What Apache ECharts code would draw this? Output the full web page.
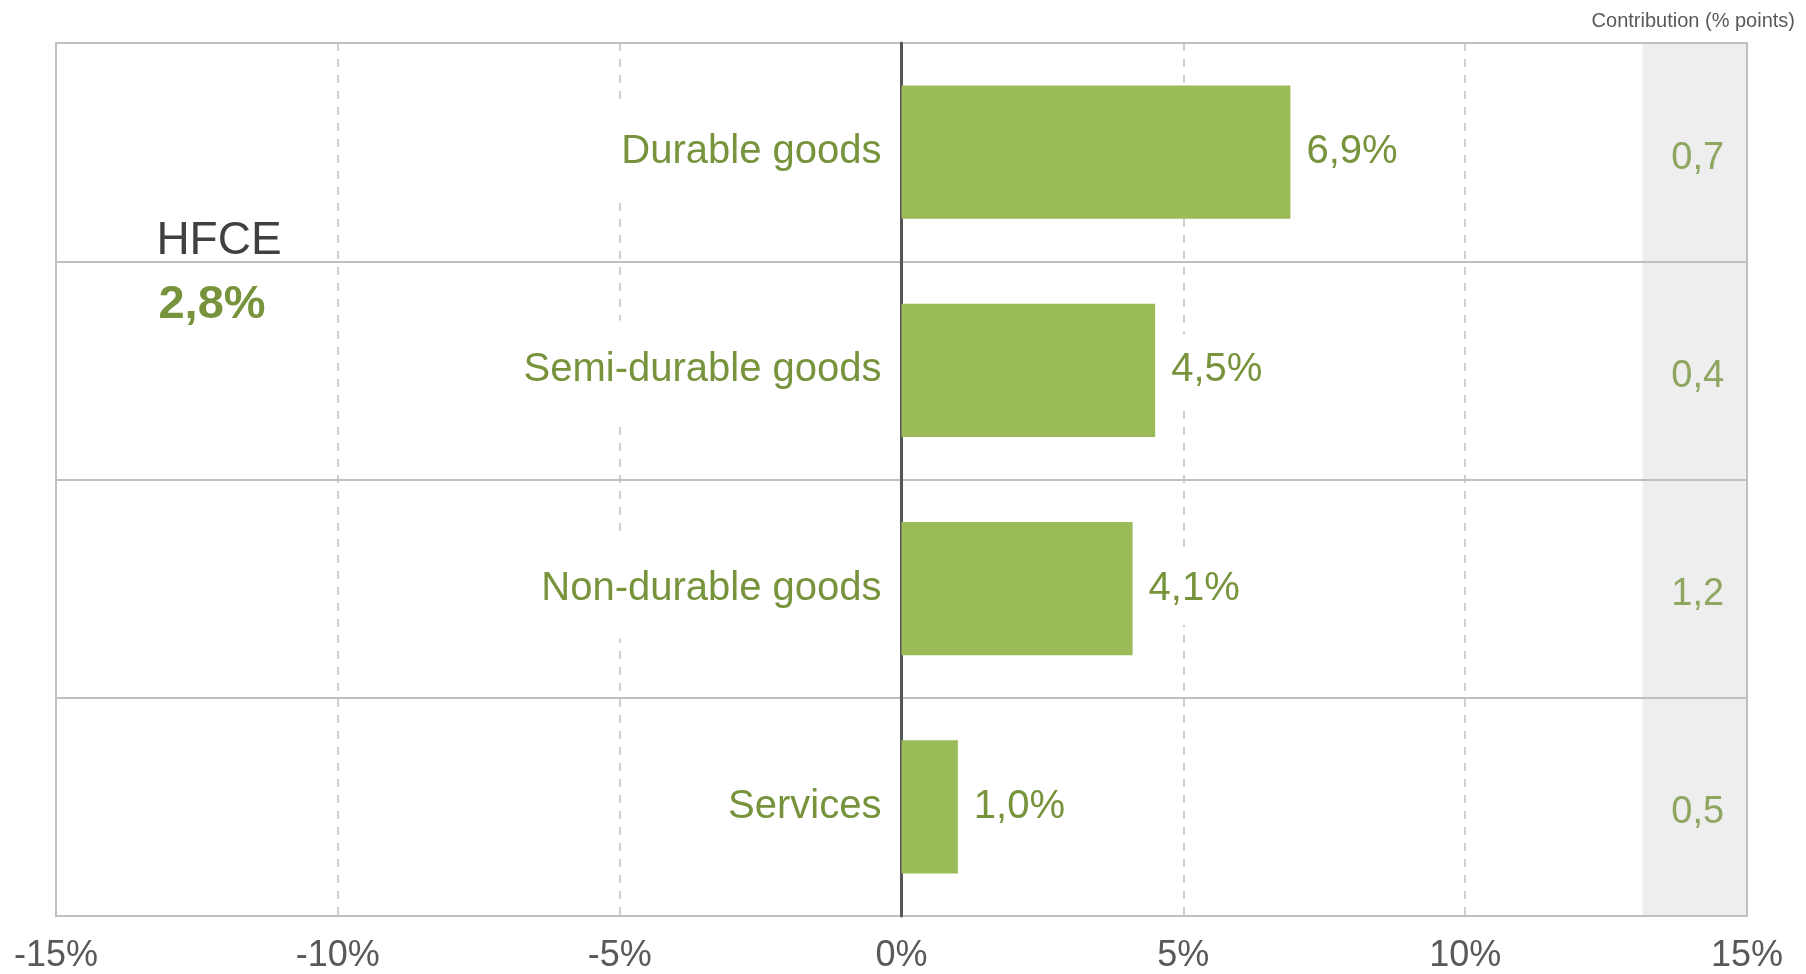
<!DOCTYPE html>
<html>
<head>
<meta charset="utf-8">
<script src="https://cdn.jsdelivr.net/npm/echarts@6/dist/echarts.min.js"></script>
<style>
html,body{margin:0;padding:0;background:#fff;}
#chart{width:1806px;height:974px;}
</style>
</head>
<body>
<div id="chart"></div>
<script>
const categories = ['Durable goods', 'Semi-durable goods', 'Non-durable goods', 'Services'];
const growth = [6.9, 4.5, 4.1, 1.0];
const contribution = [0.7, 0.4, 1.2, 0.5];
const hfceLabel = 'HFCE';
const hfceTotal = 2.8;
const contributionTitle = 'Contribution (% points)';
const xMin = -15, xMax = 15, xStep = 5;
const contribBand = [13.15, 15];

const FONT = '"Liberation Sans", Arial, sans-serif';
const GREEN = '#77933C';
const comma = v => v.toFixed(1).replace('.', ',');
const bandCenter = (contribBand[0] + contribBand[1]) / 2 + 0.05;

const W = 1806;
const gridLeft = 56, gridRight = 59;
const zeroOffset = (0 - xMin) / (xMax - xMin) * (W - gridLeft - gridRight);

const chart = echarts.init(document.getElementById('chart'), null, {renderer: 'canvas'});
chart.setOption({
  animation: false,
  backgroundColor: '#ffffff',
  textStyle: {fontFamily: FONT},
  title: {
    text: contributionTitle,
    right: 6, top: 6,
    textStyle: {fontSize: 20, fontWeight: 'normal', color: '#595959', fontFamily: FONT}
  },
  grid: {
    left: gridLeft, right: gridRight, top: 43, bottom: 58,
    containLabel: false, outerBoundsMode: 'none',
    show: true, borderColor: '#c0c0c0', borderWidth: 2, backgroundColor: 'transparent'
  },
  xAxis: {
    type: 'value', min: xMin, max: xMax, interval: xStep,
    axisLine: {show: false},
    axisTick: {show: false},
    axisLabel: {
      formatter: v => v + '%', fontSize: 36, color: '#595959', margin: 22, fontFamily: FONT
    },
    splitLine: {
      show: true, showMinLine: false, showMaxLine: false,
      lineStyle: {color: '#c0c0c0', width: 1.5, type: [8, 8]}
    }
  },
  yAxis: {
    type: 'category', data: categories, inverse: true,
    offset: -zeroOffset,
    axisLine: {show: true, onZero: false, lineStyle: {color: '#555555', width: 3}},
    axisTick: {show: false},
    axisLabel: {
      fontSize: 40, color: GREEN, margin: 16, fontFamily: FONT,
      backgroundColor: '#ffffff', padding: [34, 4, 26, 4]
    },
    splitLine: {show: true, interval: 0, lineStyle: {color: '#c0c0c0', width: 2}}
  },
  series: [
    {
      type: 'scatter', z: -1, silent: true,
      data: [],
      markArea: {
        silent: true, z: -1, zlevel: 0,
        itemStyle: {color: '#eeeeee'},
        data: [[{xAxis: contribBand[0]}, {xAxis: contribBand[1]}]]
      }
    },
    {
      type: 'bar', data: growth, barWidth: '61%',
      itemStyle: {color: '#9BBB59'},
      label: {
        show: true, position: 'right', distance: 12,
        formatter: p => comma(p.value) + '%',
        fontSize: 40, color: GREEN, fontFamily: FONT,
        backgroundColor: '#ffffff', padding: [19, 4, 13, 4]
      }
    },
    {
      type: 'scatter', symbolSize: 1, itemStyle: {color: 'rgba(0,0,0,0)'},
      data: contribution.map((c, i) => [bandCenter, categories[i], c]),
      label: {
        show: true, position: 'inside', offset: [0, 6],
        formatter: p => comma(p.value[2]),
        fontSize: 38, color: GREEN, fontFamily: FONT
      }
    }
  ],
  graphic: [
    {
      type: 'group', z: 10,
      children: [
        {type: 'rect', shape: {x: 76, y: 190, width: 288, height: 86}, style: {fill: '#ffffff'}},
        {type: 'text', x: 219, y: 241, style: {text: hfceLabel, font: '46px ' + FONT, fill: '#404040', textAlign: 'center', textVerticalAlign: 'middle'}},
        {type: 'text', x: 212, y: 305, style: {text: comma(hfceTotal) + '%', font: 'bold 47px ' + FONT, fill: GREEN, textAlign: 'center', textVerticalAlign: 'middle'}}
      ]
    }
  ]
});
</script>
</body>
</html>
